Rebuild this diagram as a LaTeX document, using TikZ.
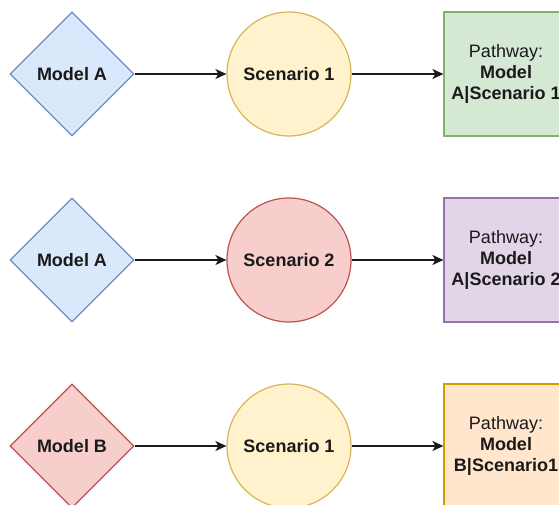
\documentclass[tikz,border=0pt]{standalone}
\usepackage{fontspec}
\setmainfont{Liberation Sans}
\usetikzlibrary{shapes.geometric,arrows.meta}

\definecolor{blueFill}{HTML}{DAE8FC}
\definecolor{blueLine}{HTML}{6C8EBF}
\definecolor{redFill}{HTML}{F8CECC}
\definecolor{redLine}{HTML}{B85450}
\definecolor{yellowFill}{HTML}{FFF2CC}
\definecolor{yellowLine}{HTML}{D6B656}
\definecolor{greenFill}{HTML}{D5E8D4}
\definecolor{greenLine}{HTML}{82B366}
\definecolor{purpleFill}{HTML}{E1D5E7}
\definecolor{purpleLine}{HTML}{9673A6}
\definecolor{orangeFill}{HTML}{FFE6CC}
\definecolor{orangeLine}{HTML}{D79B00}
\definecolor{ink}{HTML}{1A1A1A}

\begin{document}
\begin{tikzpicture}[x=1pt,y=1pt,
    every node/.style = {text=ink, line width=1.2pt, font=\fontsize{18}{21}\selectfont},
    model/.style = {draw, diamond, aspect=1, minimum width=124pt, minimum height=124pt, inner sep=0pt, font=\fontsize{18}{21}\selectfont\bfseries},
    scen/.style = {draw, circle, minimum size=124pt, inner sep=0pt, font=\fontsize{18}{21}\selectfont\bfseries},
    pathway/.style = {draw, rectangle, minimum width=124pt, minimum height=124pt, inner sep=0pt, align=center},
    arr/.style = {draw=ink, line width=1.4pt, -{Stealth[length=11pt,width=10pt,inset=3pt]}},
    node distance={217pt}]
    \useasboundingbox (0,0) rectangle (559,-504);
    \clip (0,0) rectangle (559,-504);
    % first row
    \node[model, fill=blueFill, draw=blueLine] (1) at (72,-74) {Model A};
    \node[scen, fill=yellowFill, draw=yellowLine] (2) [right of=1] {Scenario 1};
    \node[pathway, fill=greenFill, draw=greenLine] (3) [right of=2] {Pathway:\\\textbf{Model}\\\textbf{A|Scenario 1}};
    % second row
    \node[model, fill=blueFill, draw=blueLine] (4) [below of=1, node distance=186pt] {Model A};
    \node[scen, fill=redFill, draw=redLine] (5) [right of=4] {Scenario 2};
    \node[pathway, fill=purpleFill, draw=purpleLine] (6) [right of=5] {Pathway:\\\textbf{Model}\\\textbf{A|Scenario 2}};
    % third row
    \node[model, fill=redFill, draw=redLine] (7) [below of=4, node distance=186pt] {Model B};
    \node[scen, fill=yellowFill, draw=yellowLine] (8) [right of=7] {Scenario 1};
    \node[pathway, fill=orangeFill, draw=orangeLine] (9) [right of=8] {Pathway:\\\textbf{Model}\\\textbf{B|Scenario1}};
    \draw[arr] (1) -- (2);
    \draw[arr] (2) -- (3);
    \draw[arr] (4) -- (5);
    \draw[arr] (5) -- (6);
    \draw[arr] (7) -- (8);
    \draw[arr] (8) -- (9);
\end{tikzpicture}
\end{document}
